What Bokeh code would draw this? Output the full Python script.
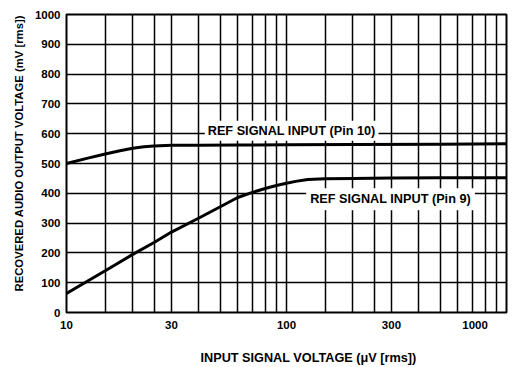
from bokeh.plotting import figure
from bokeh.models import FixedTicker, Label, Range1d, Title
from bokeh.embed import file_html
from bokeh.resources import INLINE

# ---- data ----
pin10_x = [10, 12.5, 15, 17.5, 20, 22.5, 25, 30, 40, 60, 100, 200, 500, 1000]
pin10_y = [500, 518, 532, 543, 551, 556, 559, 561, 561, 562, 563, 564, 565, 566]

pin9_x = [10, 15, 20, 25, 30, 40, 50, 60, 70, 80, 90, 100, 110, 125, 150, 200, 300, 500, 1000]
pin9_y = [64, 140, 195, 235, 270, 317, 355, 386, 403, 416, 426, 434, 440, 446, 449, 450, 451, 452, 452]

x_grid = [10, 15, 20, 25, 30, 40, 50, 60, 70, 80, 90, 100,
          150, 200, 250, 300, 400, 500, 600, 700, 800, 900, 1000]
y_ticks = [0, 100, 200, 300, 400, 500, 600, 700, 800, 900, 1000]
x_tick_values = [10, 30, 100, 300, 1000]
x_tick_labels = ["10", "30", "100", "300", "1000\u2007\u2007\u2007\u2007"]

label_pin10 = "REF SIGNAL INPUT (Pin 10)"
label_pin9 = "REF SIGNAL INPUT (Pin 9)"
x_title = "INPUT SIGNAL VOLTAGE (\u03bcV [rms])"
y_title = "RECOVERED AUDIO OUTPUT VOLTAGE (mV [rms])"

FONT = "Liberation Sans"

p = figure(width=513, height=367, x_axis_type="log",
           x_range=Range1d(10, 1000), y_range=Range1d(0, 1000),
           output_backend="svg", toolbar_location=None,
           min_border_left=66, min_border_right=7,
           min_border_top=14, min_border_bottom=55)
p.background_fill_color = "white"
p.border_fill_color = "white"
p.outline_line_color = "black"
p.outline_line_width = 2

# grids
p.xgrid.ticker = FixedTicker(ticks=x_grid)
p.ygrid.ticker = FixedTicker(ticks=y_ticks)
for g in (p.xgrid, p.ygrid):
    g.grid_line_color = "black"
    g.grid_line_width = 1.5
    g.grid_line_alpha = 1.0

# axes
p.yaxis.ticker = FixedTicker(ticks=y_ticks)
p.xaxis.ticker = FixedTicker(ticks=x_tick_values)
p.xaxis.major_label_overrides = {v: t for v, t in zip(x_tick_values, x_tick_labels)}
for ax in (p.xaxis, p.yaxis):
    ax.axis_line_color = None
    ax.major_tick_in = 0
    ax.major_tick_out = 0
    ax.minor_tick_line_color = None
    ax.major_label_text_font = FONT
    ax.major_label_text_font_style = "bold"
    ax.major_label_text_font_size = "11.5px"
    ax.major_label_text_color = "black"
p.yaxis.major_label_standoff = 6
p.xaxis.major_label_standoff = 6

# curves
p.line(pin10_x, pin10_y, line_color="black", line_width=3)
p.line(pin9_x, pin9_y, line_color="black", line_width=3)

# curve labels with white boxes
p.add_layout(Label(x=42.5, y=610, text=label_pin10, text_baseline="middle",
                   text_font=FONT, text_font_style="bold", text_font_size="12.7px",
                   text_color="black", background_fill_color="white", padding=3))
p.add_layout(Label(x=122.9, y=380, text=label_pin9, text_baseline="middle",
                   text_font=FONT, text_font_style="bold", text_font_size="12.7px",
                   text_color="black", background_fill_color="white", padding=4))

# axis titles
p.add_layout(Title(text="\n" + x_title, align="left", offset=134, standoff=2,
                   vertical_align="bottom", text_line_height=1.0,
                   text_font=FONT, text_font_style="bold", text_font_size="12.7px",
                   text_color="black"), "below")
p.add_layout(Title(text=y_title, align="left", offset=21, standoff=12,
                   vertical_align="middle",
                   text_font=FONT, text_font_style="bold", text_font_size="11.3px",
                   text_color="black"), "left")

open("out.html", "w").write(file_html(p, INLINE))
